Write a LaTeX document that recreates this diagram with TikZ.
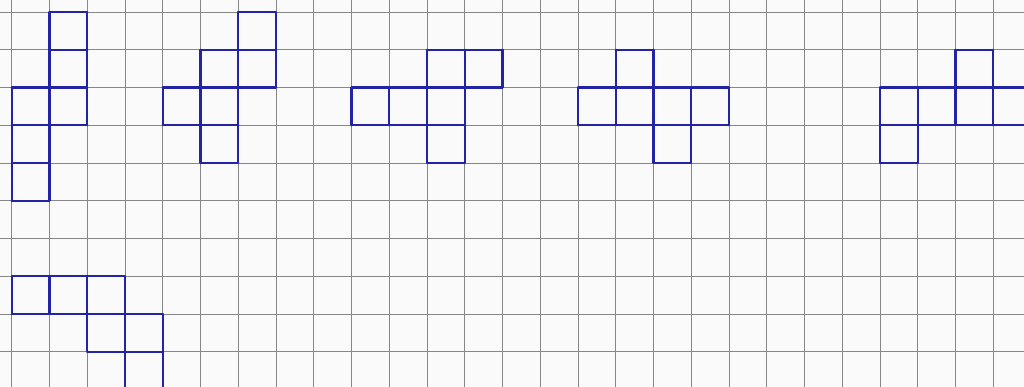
\documentclass[tikz,border=0pt]{standalone}
\definecolor{gridgray}{RGB}{135,135,135}
\definecolor{pen}{RGB}{35,35,165}
\definecolor{paper}{RGB}{250,250,250}
\begin{document}
\begin{tikzpicture}[x=1pt,y=-1pt,
  gridline/.style={draw=gridgray,line width=0.9pt},
  penline/.style={draw=pen,line width=2.2pt,line cap=round,line join=round}]
\useasboundingbox (0,0) rectangle (1024,387);
\clip (0,0) rectangle (1024,387);
\fill[paper] (0,0) rectangle (1024,387);
\begin{scope}[shift={(11.7,12)},x=37.75pt,y=-37.75pt]
  \foreach \c in {0,...,26} \draw[gridline] (\c,-1) -- (\c,11);
  \foreach \r in {0,...,9} \draw[gridline] (-1,\r) -- (28,\r);
  % shape 1
  \draw[penline] (1,0)--(2,0) (1,0)--(1,5) (2,0)--(2,3) (1,1)--(2,1)
    (0,2)--(2,2) (0,3)--(2,3) (0,4)--(1,4) (0,5)--(1,5) (0,2)--(0,5);
  % shape 2
  \draw[penline] (6,0)--(7,0) (7,0)--(7,2) (6,0)--(6,4) (5,1)--(7,1)
    (5,1)--(5,4) (4,2)--(7,2) (4,2)--(4,3) (4,3)--(6,3) (5,4)--(6,4);
  % shape 3
  \draw[penline] (11,1)--(13,1) (11,1)--(11,4) (12,1)--(12,4) (13,1)--(13,2)
    (9,2)--(13,2) (9,2)--(9,3) (10,2)--(10,3) (9,3)--(12,3) (11,4)--(12,4);
  % shape 4
  \draw[penline] (16,1)--(17,1) (16,1)--(16,3) (17,1)--(17,4) (15,2)--(19,2)
    (15,2)--(15,3) (18,2)--(18,4) (19,2)--(19,3) (15,3)--(19,3) (17,4)--(18,4);
  % shape 5
  \draw[penline] (25,1)--(26,1) (25,1)--(25,3) (26,1)--(26,3) (23,2)--(27,2)
    (23,2)--(23,4) (24,2)--(24,4) (23,3)--(27,3) (23,4)--(24,4);
  % shape 6
  \draw[penline] (0,7)--(3,7) (0,7)--(0,8) (1,7)--(1,8) (2,7)--(2,9)
    (3,7)--(3,10.5) (0,8)--(4,8) (4,8)--(4,10.5) (2,9)--(4,9);
\end{scope}
\end{tikzpicture}
\end{document}
